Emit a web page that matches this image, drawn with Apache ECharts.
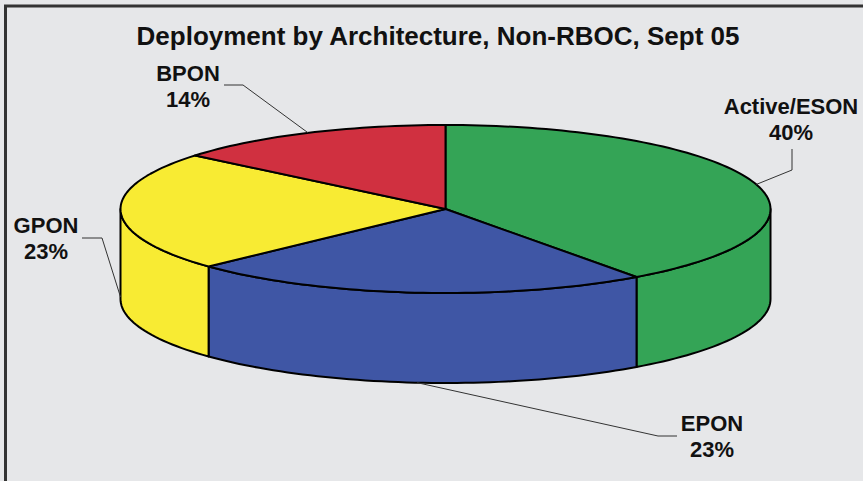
<!DOCTYPE html>
<html>
<head>
<meta charset="utf-8">
<script src="https://cdn.jsdelivr.net/npm/echarts@6/dist/echarts.min.js"></script>
<style>
  html, body { margin: 0; padding: 0; background: #e6e7e9; }
  #chart { width: 863px; height: 481px; }
</style>
</head>
<body>
<div id="chart"></div>
<script>
// Deployment shares by architecture (percent)
const categories = ['Active/ESON', 'EPON', 'GPON', 'BPON'];
const shares = [40, 23, 23, 14];
const sliceColors = ['#34a456', '#3f56a5', '#f8eb33', '#d03040'];
const titleText = 'Deployment by Architecture, Non-RBOC, Sept 05';

// Tilted disc: centre, radii of the top ellipse, wall height (px)
const disc = { cx: 445.5, cy: 209, rx: 325, ry: 84, depth: 90 };

// Callouts: label centre, leader bend points, and where the leader meets the disc
// (t = parametric angle in degrees, dy = drop below the top face)
const callouts = [
  { at: [791, 119], bend: [[792, 149], [792, 170]], t: -17, dy: 0 },
  { at: [712, 436], bend: [[677, 436], [658, 436]], t: 95, dy: 90 },
  { at: [46, 238], bend: [[82, 238], [102, 238]], t: 180, dy: 88 },
  { at: [188, 86], bend: [[224, 85], [243, 85]], t: 245, dy: 0 }
];

const total = shares.reduce((a, b) => a + b, 0);
const rad = d => d * Math.PI / 180;
function pt(tDeg, dy) {
  return [disc.cx + disc.rx * Math.cos(rad(tDeg)), disc.cy + dy + disc.ry * Math.sin(rad(tDeg))];
}
// slice i spans [start, end] in parametric degrees, clockwise from 12 o'clock
function sliceRange(i) {
  let before = 0;
  for (let k = 0; k < i; k++) before += shares[k];
  const start = -90 + 360 * before / total;
  const end = start + 360 * shares[i] / total;
  return [start, end];
}
function arc(a, b, dy) {
  const pts = [];
  const n = Math.max(2, Math.ceil(Math.abs(b - a) / 1.5));
  for (let j = 0; j <= n; j++) pts.push(pt(a + (b - a) * j / n, dy));
  return pts;
}

const edgeStyle = { stroke: '#000', lineWidth: 2, lineJoin: 'round' };

function renderWall(params, api) {
  const i = params.dataIndex;
  const [s, e] = sliceRange(i);
  // only the front half of the rim (0..180 deg) faces the viewer
  const a = Math.max(s, 0), b = Math.min(e, 180);
  if (b <= a) return null;
  const pts = arc(a, b, 0).concat(arc(b, a, disc.depth));
  return {
    type: 'polygon',
    shape: { points: pts },
    style: Object.assign({ fill: api.visual('color') }, edgeStyle)
  };
}

function renderTop(params, api) {
  const i = params.dataIndex;
  const [s, e] = sliceRange(i);
  const pts = [[disc.cx, disc.cy]].concat(arc(s, e, 0));
  return {
    type: 'polygon',
    shape: { points: pts },
    style: Object.assign({ fill: api.visual('color') }, edgeStyle)
  };
}

function renderCallout(params, api) {
  const i = params.dataIndex;
  const c = callouts[i];
  const anchor = pt(c.t, c.dy);
  const line = [anchor].concat(c.bend.slice().reverse());
  return {
    type: 'group',
    children: [
      {
        type: 'polyline',
        shape: { points: line },
        style: { stroke: '#333', lineWidth: 1, fill: null }
      },
      {
        type: 'text',
        style: {
          x: c.at[0], y: c.at[1],
          text: categories[i] + '\n' + api.value(0) + '%',
          align: 'center', verticalAlign: 'middle',
          fontFamily: 'Liberation Sans, Arial, sans-serif',
          fontWeight: 'bold', fontSize: 22, lineHeight: 26,
          fill: '#111'
        }
      }
    ]
  };
}

const seriesData = shares.map((v, i) => ({ name: categories[i], value: v, itemStyle: { color: sliceColors[i] } }));

const chart = echarts.init(document.getElementById('chart'), null, { renderer: 'svg' });
chart.setOption({
  backgroundColor: '#e6e7e9',
  animation: false,
  title: {
    text: titleText,
    left: 433, top: 18, textAlign: 'center',
    textStyle: { fontFamily: 'Liberation Sans, Arial, sans-serif', fontWeight: 'bold', fontSize: 26, color: '#111' }
  },
  graphic: [{
    type: 'polyline',
    shape: { points: [[5.5, 481], [5.5, 6], [863, 6]] },
    style: { stroke: '#333', lineWidth: 3, fill: null },
    z: 10
  }],
  series: [
    { type: 'custom', coordinateSystem: 'none', renderItem: renderWall, data: seriesData, z: 1, silent: true },
    { type: 'custom', coordinateSystem: 'none', renderItem: renderTop, data: seriesData, z: 2, silent: true },
    { type: 'custom', coordinateSystem: 'none', renderItem: renderCallout, data: seriesData, z: 3, silent: true }
  ]
});
</script>
</body>
</html>
